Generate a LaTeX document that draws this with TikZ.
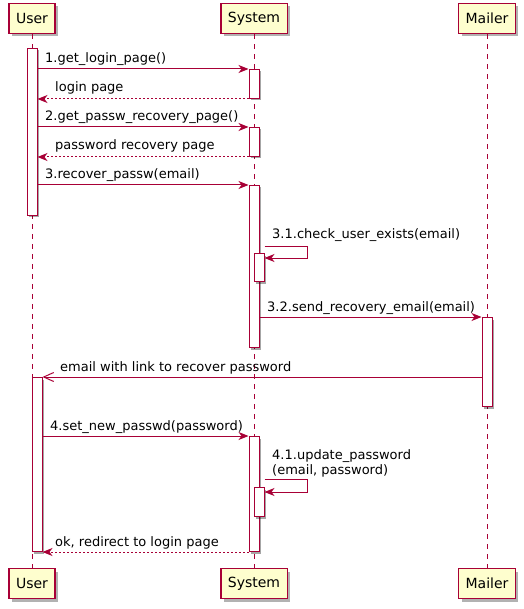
\documentclass[tikz,border=0pt]{standalone}
\usepackage{fontspec}
\setmainfont{DejaVu Sans}
\usetikzlibrary{arrows.meta,shadows}
\definecolor{umlred}{HTML}{A80036}
\definecolor{umlbox}{HTML}{FEFECE}

\begin{document}
\begin{tikzpicture}[x=1pt,y=-1pt,
    actor/.style={draw=umlred,fill=umlbox,line width=1.2pt,minimum height=30pt,inner xsep=7pt,
      font=\fontsize{14}{16}\selectfont,
      drop shadow={shadow xshift=3pt,shadow yshift=-3pt,opacity=.3,fill=black}},
    bar/.style={draw=umlred,fill=white,line width=1pt,minimum width=10pt,inner sep=0pt,anchor=north,
      drop shadow={shadow xshift=2pt,shadow yshift=-2pt,opacity=.35,fill=black}},
    life/.style={umlred,line width=1pt,dash pattern=on 5pt off 5pt},
    msg/.style={umlred,line width=1pt,-{Stealth[length=10pt,width=8pt,inset=3pt]}},
    ret/.style={msg,dash pattern=on 2pt off 2pt},
    async/.style={umlred,line width=1pt,-{Straight Barb[length=10pt,width=9pt]}},
    lbl/.style={anchor=base west,inner sep=0pt,font=\fontsize{13}{15}\selectfont}]
    \useasboundingbox (0,0) rectangle (523,609);

    % Participants
    \node[actor] (user)    at (32,18.5)  {User};
    \node[actor] (system)  at (254,18.5) {System};
    \node[actor] (mailer)  at (487,18.5) {Mailer};
    \node[actor] (userb)   at (32,583.5)  {User};
    \node[actor] (systemb) at (254,583.5) {System};
    \node[actor] (mailerb) at (487,583.5) {Mailer};

    % Lifelines
    \draw[life] (user) -- (userb);
    \draw[life] (system) -- (systemb);
    \draw[life] (mailer) -- (mailerb);

    % Activations
    \node[bar,minimum height=167pt] (ua1)  at (32,48)  {};
    \node[bar,minimum height=29pt]  (sa1)  at (254,69) {};
    \node[bar,minimum height=29pt]  (sa2)  at (254,127) {};
    \node[bar,minimum height=162pt] (sa3)  at (254,185) {};
    \node[bar,minimum height=28pt]  (sa3n) at (259,253) {};
    \node[bar,minimum height=89pt]  (ma1)  at (487,317) {};
    \node[bar,minimum height=174pt] (ua2)  at (37,377) {};
    \node[bar,minimum height=115pt] (sa4)  at (254,436) {};
    \node[bar,minimum height=29pt]  (sa4n) at (259,487) {};

    % Messages
    \draw[msg] (ua1.east |- sa1.north) -- (sa1.north west);
    \node[lbl] (l1) at (45,63) {1.get\_login\_page()};
    \draw[ret] (sa1.south west) -- (ua1.east |- sa1.south);
    \node[lbl] (l1r) at (55,92) {login page};

    \draw[msg] (ua1.east |- sa2.north) -- (sa2.north west);
    \node[lbl] (l2) at (45,121) {2.get\_passw\_recovery\_page()};
    \draw[ret] (sa2.south west) -- (ua1.east |- sa2.south);
    \node[lbl] (l2r) at (55,150) {password recovery page};

    \draw[msg] (ua1.east |- sa3.north) -- (sa3.north west);
    \node[lbl] (l3) at (45,179) {3.recover\_passw(email)};

    % Self call 3.1
    \draw[msg] ([yshift=7pt]sa3n.north east) -- ++(43,0) |- ([yshift=-5pt]sa3n.north east);
    \node[lbl] (l31) at (272,239) {3.1.check\_user\_exists(email)};

    \draw[msg] (sa3.east |- ma1.north) -- (ma1.north west);
    \node[lbl] (l32) at (267,311) {3.2.send\_recovery\_email(email)};

    \draw[async] (ma1.west |- ua2.north) -- (ua2.north east);
    \node[lbl] (la) at (60,371) {email with link to recover password};

    \draw[msg] (ua2.east |- sa4.north) -- (sa4.north west);
    \node[lbl] (l4) at (50,430) {4.set\_new\_passwd(password)};

    % Self call 4.1
    \draw[msg] ([yshift=8pt]sa4n.north east) -- ++(43,0) |- ([yshift=-5pt]sa4n.north east);
    \node[lbl,anchor=south west,align=left] (l41) at (272,477) {4.1.update\_password\\(email, password)};

    \draw[ret] (sa4.south west) -- (ua2.south east);
    \node[lbl] (l4r) at (55,546) {ok, redirect to login page};
\end{tikzpicture}
\end{document}
